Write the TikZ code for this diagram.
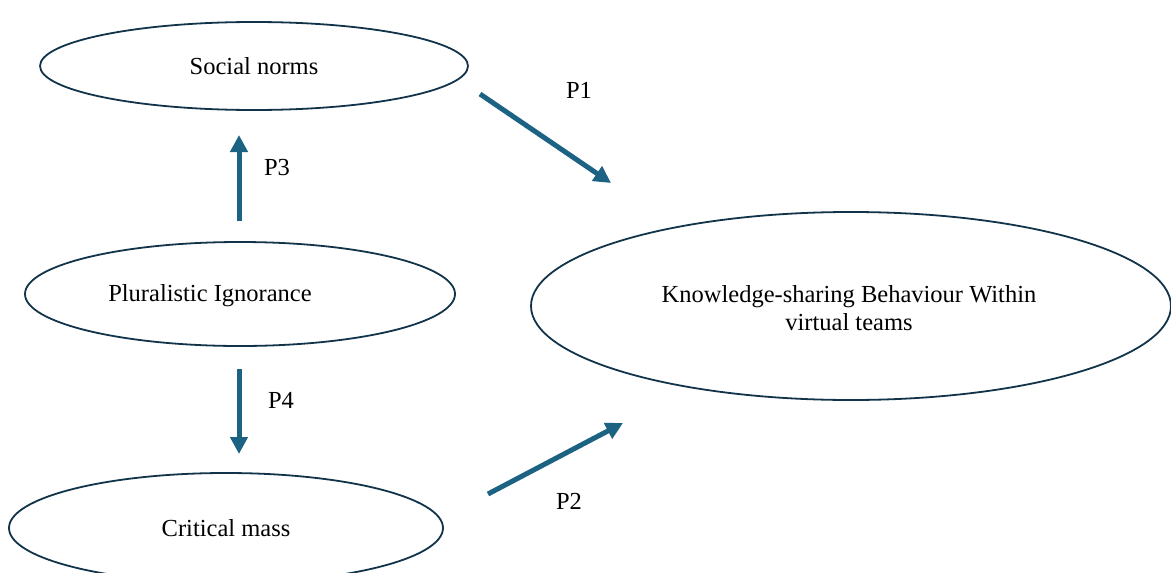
\documentclass[tikz,border=0pt]{standalone}
\usepackage{fontspec}
\setmainfont{Liberation Serif}
\usetikzlibrary{shapes.geometric,arrows.meta}
\definecolor{edgenavy}{HTML}{12344A}
\definecolor{arrowteal}{HTML}{1B6283}
\begin{document}
\begin{tikzpicture}[x=1pt,y=-1pt,
  oval/.style={draw=edgenavy,line width=1.8pt,ellipse,inner sep=0pt},
  txt/.style={font=\fontsize{24.5}{28}\selectfont,align=center,text=black},
  link/.style={draw=arrowteal,line width=5pt,-{Triangle[length=17pt,width=17pt]}},
  plab/.style={font=\fontsize{24.5}{28}\selectfont,text=black}]
\useasboundingbox[fill=white] (0,0) rectangle (1171,573);
% ellipses
\node[oval,minimum width=428pt,minimum height=88pt] (sn) at (254,66) {};
\node[txt] (snt) at (254,66) {Social norms};
\node[oval,minimum width=430pt,minimum height=104pt] (pi) at (240,294) {};
\node[txt] (pit) at (210,296) {Pluralistic Ignorance};
\node[oval,minimum width=434pt,minimum height=110pt] (cm) at (226,528) {};
\node[txt] (cmt) at (226,528) {Critical mass};
\node[oval,minimum width=640pt,minimum height=188pt] (ks) at (851,306) {};
\node[txt] (kst) at (849,308) {Knowledge-sharing Behaviour Within\\virtual teams};
% arrow end points
\coordinate (p1a) at (480,94);
\coordinate (p1b) at (611,183);
\coordinate (p3a) at (239,221);
\coordinate (p3b) at (239,135);
\coordinate (p4a) at (239,369);
\coordinate (p4b) at (239,454);
\coordinate (p2a) at (488,494);
\coordinate (p2b) at (623,423);
\draw[link] (p1a) -- (p1b);
\draw[link] (p3a) -- (p3b);
\draw[link] (p4a) -- (p4b);
\draw[link] (p2a) -- (p2b);
% labels
\node[plab] (l1) at (579,90) {P1};
\node[plab] (l3) at (277,168) {P3};
\node[plab] (l4) at (281,400) {P4};
\node[plab] (l2) at (569,501) {P2};
\end{tikzpicture}
\end{document}
